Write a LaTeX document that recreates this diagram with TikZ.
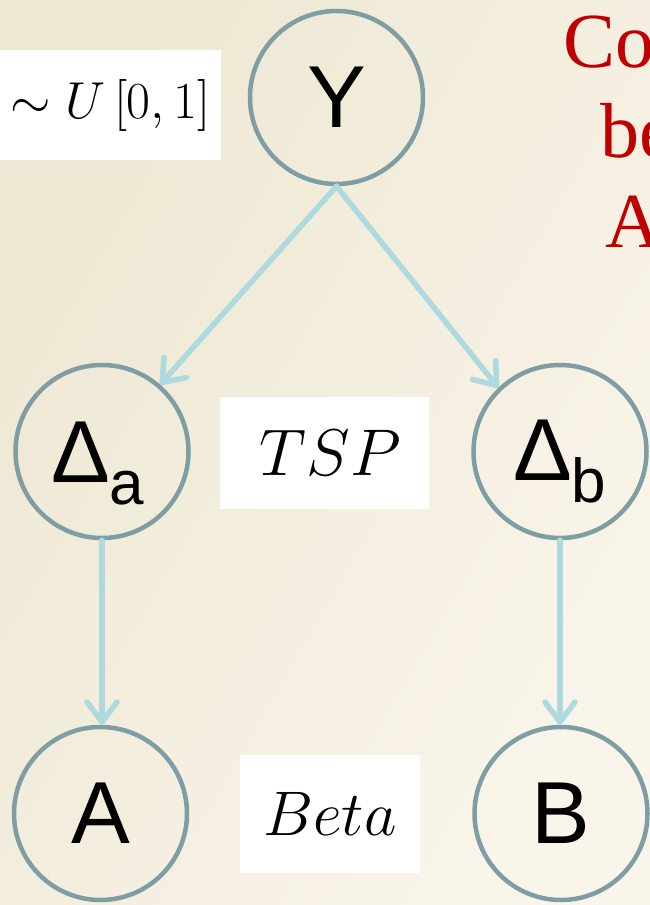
\RequirePackage{fix-cm}
\documentclass[tikz,border=0pt]{standalone}
\usepackage{fontspec}
\newfontfamily\arialf{Liberation Sans}
\newfontfamily\titlef{Liberation Serif}
\usetikzlibrary{arrows.meta}
\definecolor{bgA}{HTML}{EEE7D3}
\definecolor{bgB}{HTML}{F9F5EA}
\definecolor{ring}{HTML}{7F9EA3}
\definecolor{arr}{HTML}{ADD9DF}
\definecolor{redt}{HTML}{C00000}
\newcommand{\subtxt}[2]{\raisebox{0pt}[62pt][0pt]{#1\kern-1pt\raisebox{-22pt}{\fontsize{62}{62}\selectfont #2}}}
\begin{document}
\begin{tikzpicture}[x=1pt,y=-1pt,
  var/.style={circle, draw=ring, line width=4.5pt, minimum size=173pt, inner sep=0pt,
    font=\arialf\fontsize{88}{88}\selectfont},
  lab/.style={fill=white, inner sep=0pt},
  conn/.style={draw=arr, line width=5.5pt, line cap=round,
    -{Straight Barb[length=20pt,width=30pt,round]}},
  redtxt/.style={anchor=base west, inner sep=0pt, text=redt,
    font=\titlef\fontsize{78}{78}\selectfont}
]
\useasboundingbox (0,0) rectangle (650,905);
\clip (0,0) rectangle (650,905);
\shade[left color=bgA, right color=bgB, shading angle=60] (0,0) rectangle (650,905);

% labels
\node[lab, minimum width=221pt, minimum height=110pt] (u) at (110.5,105)
  {\fontsize{52}{52}\selectfont$\sim U\,[0,1]$};
\node[lab, minimum width=209pt, minimum height=112pt] (tsp) at (324.5,453)
  {\hspace*{12pt}\fontsize{66}{66}\selectfont$TSP$};
\node[lab, minimum width=180pt, minimum height=118pt] (beta) at (330,814)
  {\fontsize{63}{63}\selectfont$Beta$};

% variables
\node[var] (Y) at (336.5,97.5) {Y};
\node[var] (Da) at (102,451.5) {\hspace*{-8pt}\subtxt{Δ}{a}};
\node[var] (Db) at (560,451.5) {\raisebox{5pt}{\subtxt{Δ}{b}}};
\node[var] (A) at (100.5,813.5) {A};
\node[var] (B) at (561,813.5) {B};

% connectors
\draw[conn] (Y.south) -- (Da.49);
\draw[conn] (Y.south) -- (Db.134);
\draw[conn] (Da.south) -- (Da.south |- A.north);
\draw[conn] (Db.south) -- (Db.south |- B.north);

% red title (cut off at the right edge)
\node[redtxt] (r1) at (563,67) {Cor};
\node[redtxt] (r2) at (600,157) {be};
\node[redtxt] (r3) at (605,247) {A};
\end{tikzpicture}
\end{document}
